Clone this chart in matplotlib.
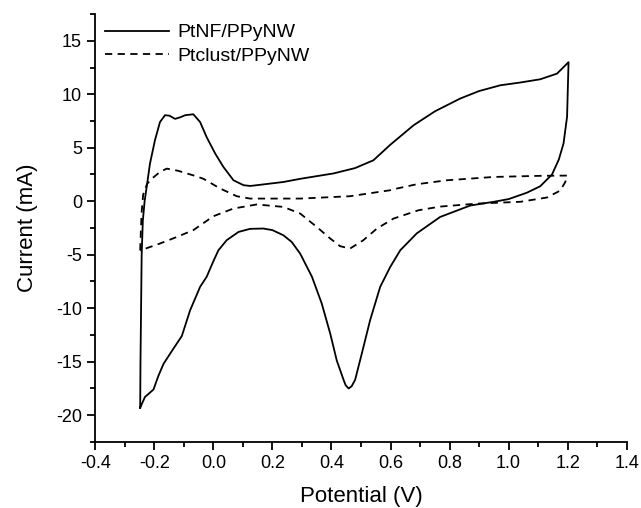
import matplotlib
matplotlib.use('Agg')
import matplotlib.pyplot as plt
from matplotlib.ticker import MultipleLocator

plt.rcParams['font.family'] = ['Liberation Sans', 'DejaVu Sans']

# PtNF/PPyNW, one closed cycle (anodic then cathodic)
nf_v = [-0.248, -0.247, -0.245, -0.243, -0.239, -0.233, -0.226, -0.215, -0.198, -0.181,
        -0.164, -0.149, -0.13, -0.112, -0.096, -0.068, -0.045, -0.023, 0.006, 0.034,
        0.068, 0.102, 0.125, 0.147, 0.237, 0.295, 0.362, 0.407, 0.48, 0.542,
        0.6, 0.678, 0.75, 0.836, 0.9, 0.972, 1.04, 1.107, 1.164, 1.203,
        1.198, 1.186, 1.17, 1.147, 1.107, 1.062, 1.0, 0.95, 0.87, 0.768,
        0.689, 0.633, 0.599, 0.565, 0.531, 0.503, 0.48, 0.468, 0.458, 0.448,
        0.441, 0.418, 0.396, 0.367, 0.334, 0.294, 0.265, 0.237, 0.2, 0.169,
        0.124, 0.085, 0.045, 0.017, 0.0, -0.023, -0.045, -0.079, -0.107, -0.136,
        -0.169, -0.186, -0.203, -0.232, -0.248]
nf_i = [-19.3, -15.0, -10.0, -5.0, -1.8, 0.0, 1.34, 3.5, 5.7, 7.4,
        8.04, 8.0, 7.7, 7.85, 8.04, 8.13, 7.4, 6.0, 4.46, 3.2,
        1.96, 1.5, 1.43, 1.5, 1.8, 2.1, 2.4, 2.6, 3.1, 3.83,
        5.3, 7.1, 8.4, 9.6, 10.3, 10.84, 11.1, 11.4, 11.93, 13.0,
        7.9, 5.4, 3.9, 2.5, 1.4, 0.8, 0.2, -0.05, -0.4, -1.47,
        -3.0, -4.58, -6.14, -8.0, -11.1, -14.2, -16.7, -17.3, -17.5, -17.2,
        -16.7, -14.9, -12.4, -9.56, -7.07, -4.9, -3.8, -3.18, -2.7, -2.55,
        -2.58, -2.87, -3.64, -4.58, -5.6, -7.07, -8.0, -10.2, -12.6, -13.8,
        -15.2, -16.3, -17.6, -18.3, -19.3]

# Ptclust/PPyNW
cl_v = [-0.248, -0.246, -0.243, -0.238, -0.225, -0.209, -0.181, -0.158, -0.12, -0.09,
        -0.06, -0.034, 0.023, 0.079, 0.124, 0.295, 0.463, 0.599, 0.622, 0.689,
        0.791, 0.949, 1.096, 1.198,
        1.192, 1.175, 1.13, 1.04, 0.893, 0.768, 0.695, 0.61, 0.554, 0.508,
        0.463, 0.429, 0.396, 0.35, 0.294, 0.237, 0.147, 0.068, 0.0, -0.068,
        -0.124, -0.181, -0.248]
cl_i = [-4.6, -3.0, -1.0, 0.6, 1.6, 2.1, 2.74, 3.05, 2.85, 2.6,
        2.35, 2.1, 1.19, 0.47, 0.25, 0.25, 0.47, 1.03, 1.19, 1.59,
        1.96, 2.27, 2.37, 2.4,
        1.8, 1.0, 0.35, -0.05, -0.22, -0.5, -0.84, -1.62, -2.55, -3.64,
        -4.42, -4.2, -3.49, -2.4, -1.15, -0.53, -0.3, -0.68, -1.4, -2.7,
        -3.34, -3.95, -4.6]

fig = plt.figure(figsize=(6.41, 5.08), dpi=100)
ax = fig.add_axes([0.1487, 0.130, 0.829, 0.8424])

ax.plot(nf_v, nf_i, color='black', lw=1.3, label='PtNF/PPyNW')
ax.plot(cl_v, cl_i, color='black', lw=1.3, dashes=(4, 3), label='Ptclust/PPyNW')

ax.set_xlim(-0.4, 1.4)
ax.set_ylim(-22.5, 17.5)
ax.xaxis.set_minor_locator(MultipleLocator(0.1))
ax.yaxis.set_minor_locator(MultipleLocator(2.5))
ax.set_xticks([-0.4, -0.2, 0.0, 0.2, 0.4, 0.6, 0.8, 1.0, 1.2, 1.4])
ax.set_xticklabels(['-0.4', '-0.2', '0.0', '0.2', '0.4', '0.6', '0.8', '1.0', '1.2', '1.4'])
ax.set_yticks([-20, -15, -10, -5, 0, 5, 10, 15])
ax.set_yticklabels(['-20', '-15', '-10', '-5', '0', '5', '10', '15'])

ax.spines['top'].set_visible(False)
ax.spines['right'].set_visible(False)
ax.spines['left'].set_linewidth(1.3)
ax.spines['bottom'].set_linewidth(1.3)
ax.tick_params(which='major', direction='out', length=6, width=1.3, labelsize=13)
ax.tick_params(which='minor', direction='out', length=3.5, width=1.3)

ax.set_xlabel('Potential (V)', fontsize=16, labelpad=10)
ax.set_ylabel('Current (mA)', fontsize=16, labelpad=13)

ax.legend(loc='upper left', frameon=False, fontsize=14, handlelength=3.3,
          handletextpad=0.4, borderaxespad=0.1, labelspacing=0.3,
          bbox_to_anchor=(0.0, 1.0))

fig.savefig('out.png', dpi=100)
